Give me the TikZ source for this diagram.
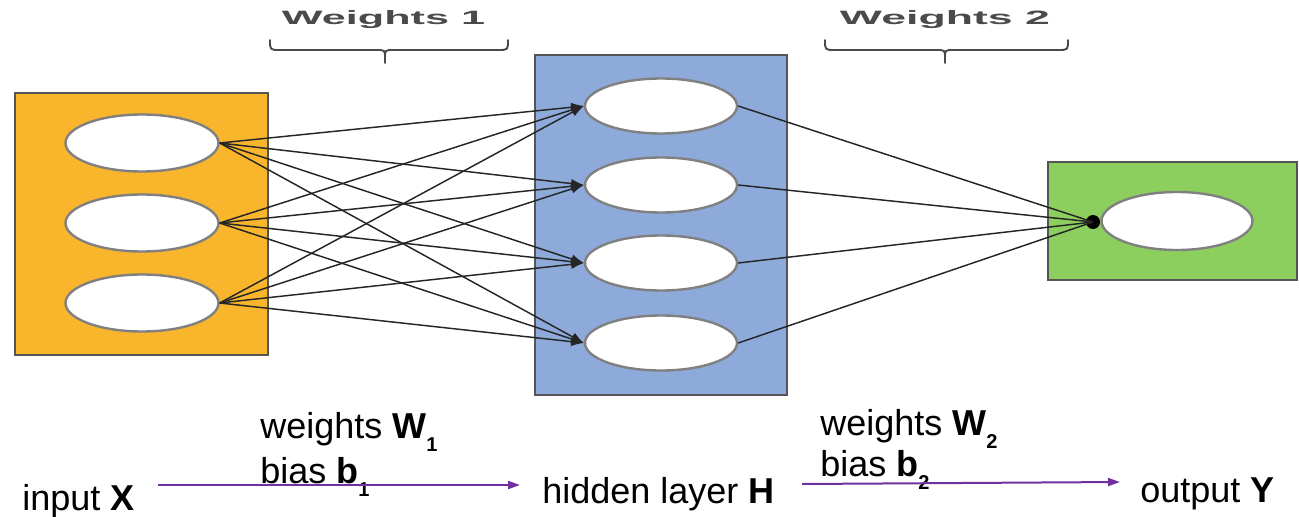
\documentclass[tikz,border=0pt]{standalone}
\usepackage{fontspec}
\setmainfont{Liberation Sans}
\usetikzlibrary{shapes.geometric,arrows.meta}
\definecolor{orangefill}{HTML}{F9B62C}
\definecolor{bluefill}{HTML}{8DAADB}
\definecolor{greenfill}{HTML}{8DCF5E}
\definecolor{boxline}{HTML}{555555}
\definecolor{ellline}{HTML}{808080}
\definecolor{arrowpurple}{HTML}{7030A0}
\definecolor{labelgray}{HTML}{4A4A4A}
\newcommand\lowsub[1]{\raisebox{-10pt}{\fontsize{15}{15}\selectfont\bfseries #1}}
\begin{document}
\begin{tikzpicture}[x=0.75pt,y=-0.75pt,
  layerbox/.style={draw=boxline,line width=1.6pt,inner sep=0pt},
  neuron/.style={ellipse,draw=ellline,line width=1.8pt,fill=white,inner sep=0pt},
  inneuron/.style={neuron,minimum width=114.75pt,minimum height=42.75pt},
  hidneuron/.style={neuron,minimum width=114pt,minimum height=41.25pt},
  outneuron/.style={neuron,minimum width=113.25pt,minimum height=43.5pt},
  edge1/.style={draw=black!85,line width=1.1pt,-{Latex[length=9.5pt,width=7pt]}},
  edge2/.style={draw=black!85,line width=1.1pt},
  flow/.style={draw=arrowpurple,line width=1.5pt,-{Triangle[length=9pt,width=6pt]}},
  lab/.style={inner sep=0pt,font=\fontsize{27}{32}\selectfont},
  toplabel/.style={inner sep=0pt,text=labelgray,font=\bfseries},
  bracestyle/.style={draw=labelgray,line width=1.4pt,line cap=round},
  dotnode/.style={circle,fill=black,inner sep=0pt,minimum size=10.5pt}]
\useasboundingbox (0,0) rectangle (1299,517);

% layer boxes
\node[layerbox,fill=orangefill,minimum width=189.75pt,minimum height=196.5pt] (L1) at (141.5,224) {};
\node[layerbox,fill=bluefill,minimum width=189pt,minimum height=255pt] (L2) at (661,225) {};
\node[layerbox,fill=greenfill,minimum width=186.75pt,minimum height=88.5pt] (L3) at (1172.5,221) {};

% neurons
\node[inneuron] (i1) at (142,143) {};
\node[inneuron] (i2) at (142,223) {};
\node[inneuron] (i3) at (142,303) {};
\node[hidneuron] (h1) at (661,106) {};
\node[hidneuron] (h2) at (661,185) {};
\node[hidneuron] (h3) at (661,263) {};
\node[hidneuron] (h4) at (661,343) {};
\node[outneuron] (o1) at (1177,221) {};
\node[dotnode] (dot) at (1093,222) {};

% edges input -> hidden
\foreach \i in {1,2,3}{
  \foreach \h in {1,2,3,4}{
    \draw[edge1] (i\i.east) -- (h\h.west);
  }
}
% edges hidden -> output
\foreach \h in {1,2,3,4}{
  \draw[edge2] (h\h.east) -- (dot.center);
}

% top labels and braces
\node[toplabel,anchor=base] (wt1) at (383.5,25) {\resizebox{152.25pt}{10.5pt}{Weights 1}};
\node[toplabel,anchor=base] (wt2) at (945,25) {\resizebox{157.5pt}{10.5pt}{Weights 2}};
\draw[bracestyle] (270,40) .. controls (270,50) .. (280,50) -- (376,50) .. controls (385,50) .. (385,58) -- (385,63);
\draw[bracestyle] (508,40) .. controls (508,50) .. (498,50) -- (394,50) .. controls (385,50) .. (385,58);
\draw[bracestyle] (825,40) .. controls (825,50) .. (835,50) -- (936,50) .. controls (945,50) .. (945,58) -- (945,63);
\draw[bracestyle] (1068,40) .. controls (1068,50) .. (1058,50) -- (954,50) .. controls (945,50) .. (945,58);

% bottom labels
\node[lab,anchor=base west] (inX) at (22,510) {input \textbf{X}};
\node[lab,anchor=base west] (hidH) at (542,503) {hidden layer \textbf{H}};
\node[lab,anchor=base west] (outY) at (1140,502) {output \textbf{Y}};
\node[lab,anchor=base west] (w1) at (260,438) {weights \textbf{W}\lowsub{1}};
\node[lab,anchor=base west] (b1) at (260,483) {bias \textbf{b}\lowsub{1}};
\node[lab,anchor=base west] (w2) at (820,435) {weights \textbf{W}\lowsub{2}};
\node[lab,anchor=base west] (b2) at (820,476) {bias \textbf{b}\lowsub{2}};

% flow arrows
\coordinate (a1s) at (158,485);
\coordinate (a1e) at (520,485);
\coordinate (a2s) at (802,484);
\coordinate (a2e) at (1120,482);
\draw[flow] (a1s) -- (a1e);
\draw[flow] (a2s) -- (a2e);
\end{tikzpicture}
\end{document}
